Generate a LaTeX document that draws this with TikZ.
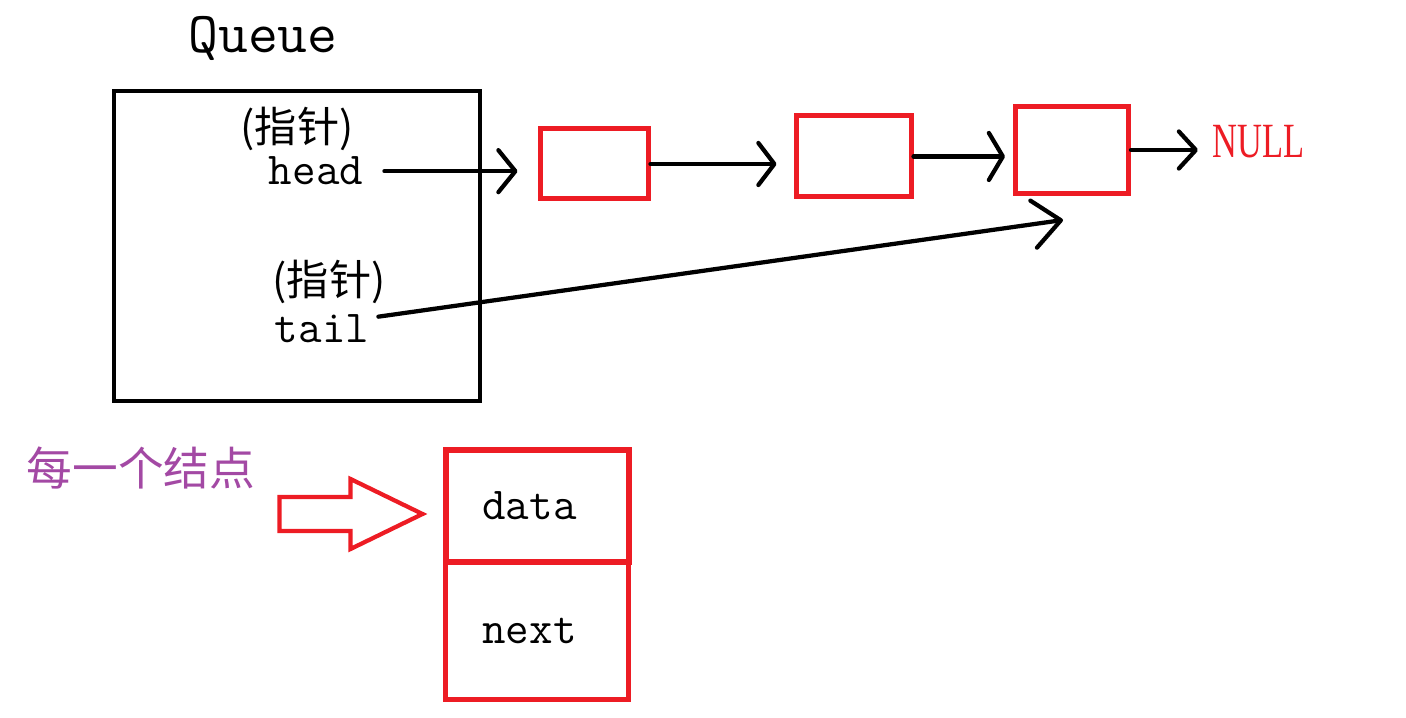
\documentclass[tikz,border=0pt]{standalone}
\usepackage{fontspec}
\usepackage{graphicx}
\newfontfamily\cjk{Noto Sans CJK SC}
\newfontfamily\nullserif{Liberation Serif}
\usetikzlibrary{arrows.meta,positioning,calc}
\definecolor{RojoPaint}{RGB}{237,28,36}
\definecolor{MoradoPaint}{RGB}{163,73,164}
\tikzset{
  qbox/.style={draw=black, line width=0.085cm, minimum width=7.32cm, minimum height=6.2cm},
  tlabel/.style={inner sep=0pt, font=\ttfamily\fontsize{26}{30}\selectfont},
  cjklabel/.style={inner sep=0pt, font=\cjk\fontsize{24}{28}\selectfont},
  listbox/.style={draw=RojoPaint, line width=0.1cm},
  cellbox/.style={draw=RojoPaint, line width=0.1cm, minimum width=3.66cm,
    font=\ttfamily\fontsize{26}{30}\selectfont},
  ptrarr/.style={-{Straight Barb[round, length=#1, width=0.84cm]}, line width=0.085cm, line cap=round},
  ptrarr/.default=0.32cm,
}

\begin{document}
\begin{tikzpicture}
  \useasboundingbox (0,0) rectangle (28.12,-14.36);
  % cola
  \node[tlabel, font=\ttfamily\fontsize{33}{36}\selectfont, anchor=base] (qname) at (5.26,-1.06) {Queue};
  \node[qbox] (queue) at (5.94,-4.92) {};
  \node[cjklabel] (hp) at (5.94,-2.58) {(指针)};
  \node[tlabel, anchor=base] (head) at (6.32,-3.70) {head};
  \node[cjklabel] (tp) at (6.58,-5.64) {(指针)};
  \node[tlabel, anchor=base] (tail) at (6.44,-6.86) {tail};
  % lista
  \node[listbox, minimum width=2.16cm, minimum height=1.40cm] (n1) at (11.88,-3.28) {};
  \node[listbox, minimum width=2.30cm, minimum height=1.62cm] (n2) at (17.07,-3.13) {};
  \node[listbox, minimum width=2.26cm, minimum height=1.74cm] (n3) at (21.44,-3.00) {};
  \node[anchor=base west, inner sep=0pt, text=RojoPaint,
    font=\nullserif\fontsize{28}{32}\selectfont] (null) at (24.24,-3.16) {\scalebox{0.7}[1]{NULL}};
  \coordinate (tailend) at ($(n3.south)+(-0.18,-0.48)$);
  \draw[ptrarr=0.34cm, shorten <=0.42cm, shorten >=0.40cm] (head.east) -- (head.east -| n1.west);
  \draw[ptrarr, shorten >=0.34cm] (n1.east) -- (n1.east -| n2.west);
  \draw[-{Straight Barb[round, length=0.28cm, width=0.94cm]}, line width=0.085cm, line cap=round,
    shorten >=0.16cm] (n2.east) -- (n2.east -| n3.west);
  \draw[-{Straight Barb[round, length=0.34cm, width=0.74cm]}, line width=0.085cm, line cap=round,
    shorten >=0.28cm] (n3.east) -- (n3.east -| null.west);
  \draw[-{Straight Barb[round, length=0.55cm, width=0.95cm]}, line width=0.085cm, line cap=round]
    ([xshift=0.18cm, yshift=0.25cm]tail.east) -- (tailend);
  % nodo
  \node[cjklabel, text=MoradoPaint, font=\cjk\fontsize{26}{30}\selectfont] (cada) at (2.82,-9.36) {每一个结点};
  \node[cellbox, line width=0.12cm, minimum height=2.24cm] (dbox) at (10.74,-10.12) {data\hspace*{0.3cm}};
  \node[cellbox, minimum height=2.74cm, below=-0.1cm of dbox] (nbox) {next\hspace*{0.3cm}};
  \coordinate (btip) at ($(dbox.west)+(-0.4,-0.16)$);
  \draw[RojoPaint, line width=0.085cm] (btip) -- ++(-1.44,0.70) -- ++(0,-0.36) -- ++(-1.42,0)
    -- ++(0,-0.68) -- ++(1.42,0) -- ++(0,-0.36) -- cycle;
\end{tikzpicture}
\end{document}
